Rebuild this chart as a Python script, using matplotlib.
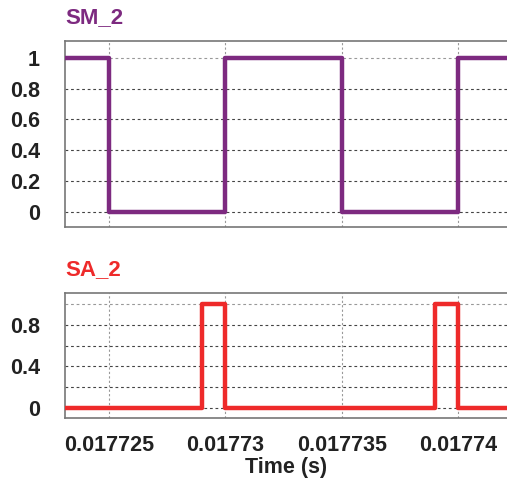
import matplotlib
matplotlib.use("Agg")
import matplotlib.pyplot as plt

plt.rcParams['font.family'] = ['Liberation Sans', 'DejaVu Sans']
plt.rcParams['font.weight'] = 'bold'

# switching instants (s) and states for the two gate signals
sm_t = [0.0177231, 0.017725, 0.01773, 0.017735, 0.01774, 0.0177421]
sm_v = [1, 0, 1, 0, 1, 1]
sa_t = [0.0177231, 0.017729, 0.01773, 0.017739, 0.01774, 0.0177421]
sa_v = [0, 1, 0, 1, 0, 0]

xticks = [0.017725, 0.01773, 0.017735, 0.01774]
xtick_labels = ['0.017725', '0.01773', '0.017735', '0.01774']
xlim = (0.0177231, 0.0177421)
ygrid = [0, 0.2, 0.4, 0.6, 0.8, 1]

fig = plt.figure(figsize=(5.07, 4.86), dpi=100)
ax1 = fig.add_axes([0.128, 0.533, 0.872, 0.383])
ax2 = fig.add_axes([0.128, 0.140, 0.872, 0.257])


def style(ax, yticks, ylabels):
    ax.set_xlim(*xlim)
    ax.set_xticks(xticks)
    # dotted grid drawn by hand: dark horizontals, light verticals
    for y in ygrid:
        ax.axhline(y, color='#444444' if y < 1 else '#999999', lw=0.8,
                   ls=(0, (2.5, 2.5)), zorder=1)
    for x in xticks:
        ax.axvline(x, color='#999999', lw=0.8, ls=(0, (2, 2)), zorder=1)
    ax.set_yticks(yticks)
    ax.set_yticklabels(ylabels)
    ax.tick_params(length=0, labelsize=15.5, colors='#222222', pad=18)
    ax.tick_params(axis='x', pad=12)
    for s in ['top', 'bottom', 'left']:
        ax.spines[s].set_color('#777777')
        ax.spines[s].set_linewidth(1.2)
    ax.spines['right'].set_visible(False)


ax1.step(sm_t, sm_v, where='post', color='#7d2a80', lw=3.2, zorder=3)
ax1.set_ylim(-0.097, 1.11)
style(ax1, ygrid, ['0', '0.2', '0.4', '0.6', '0.8', '1'])
ax1.set_xticklabels([])
ax1.set_title('SM_2', loc='left', color='#7d2a80', fontsize=16,
              fontweight='bold', pad=13)

ax2.step(sa_t, sa_v, where='post', color='#ee2a2a', lw=3.2, zorder=3)
ax2.set_ylim(-0.096, 1.106)
style(ax2, [0, 0.4, 0.8], ['0', '0.4', '0.8'])
ax2.set_xticklabels(xtick_labels)
ax2.set_title('SA_2', loc='left', color='#ee2a2a', fontsize=16,
              fontweight='bold', pad=13)
ax2.set_xlabel('Time (s)', fontsize=15.5, fontweight='bold', color='#222222',
               labelpad=1)

fig.savefig('out.png', dpi=100)
